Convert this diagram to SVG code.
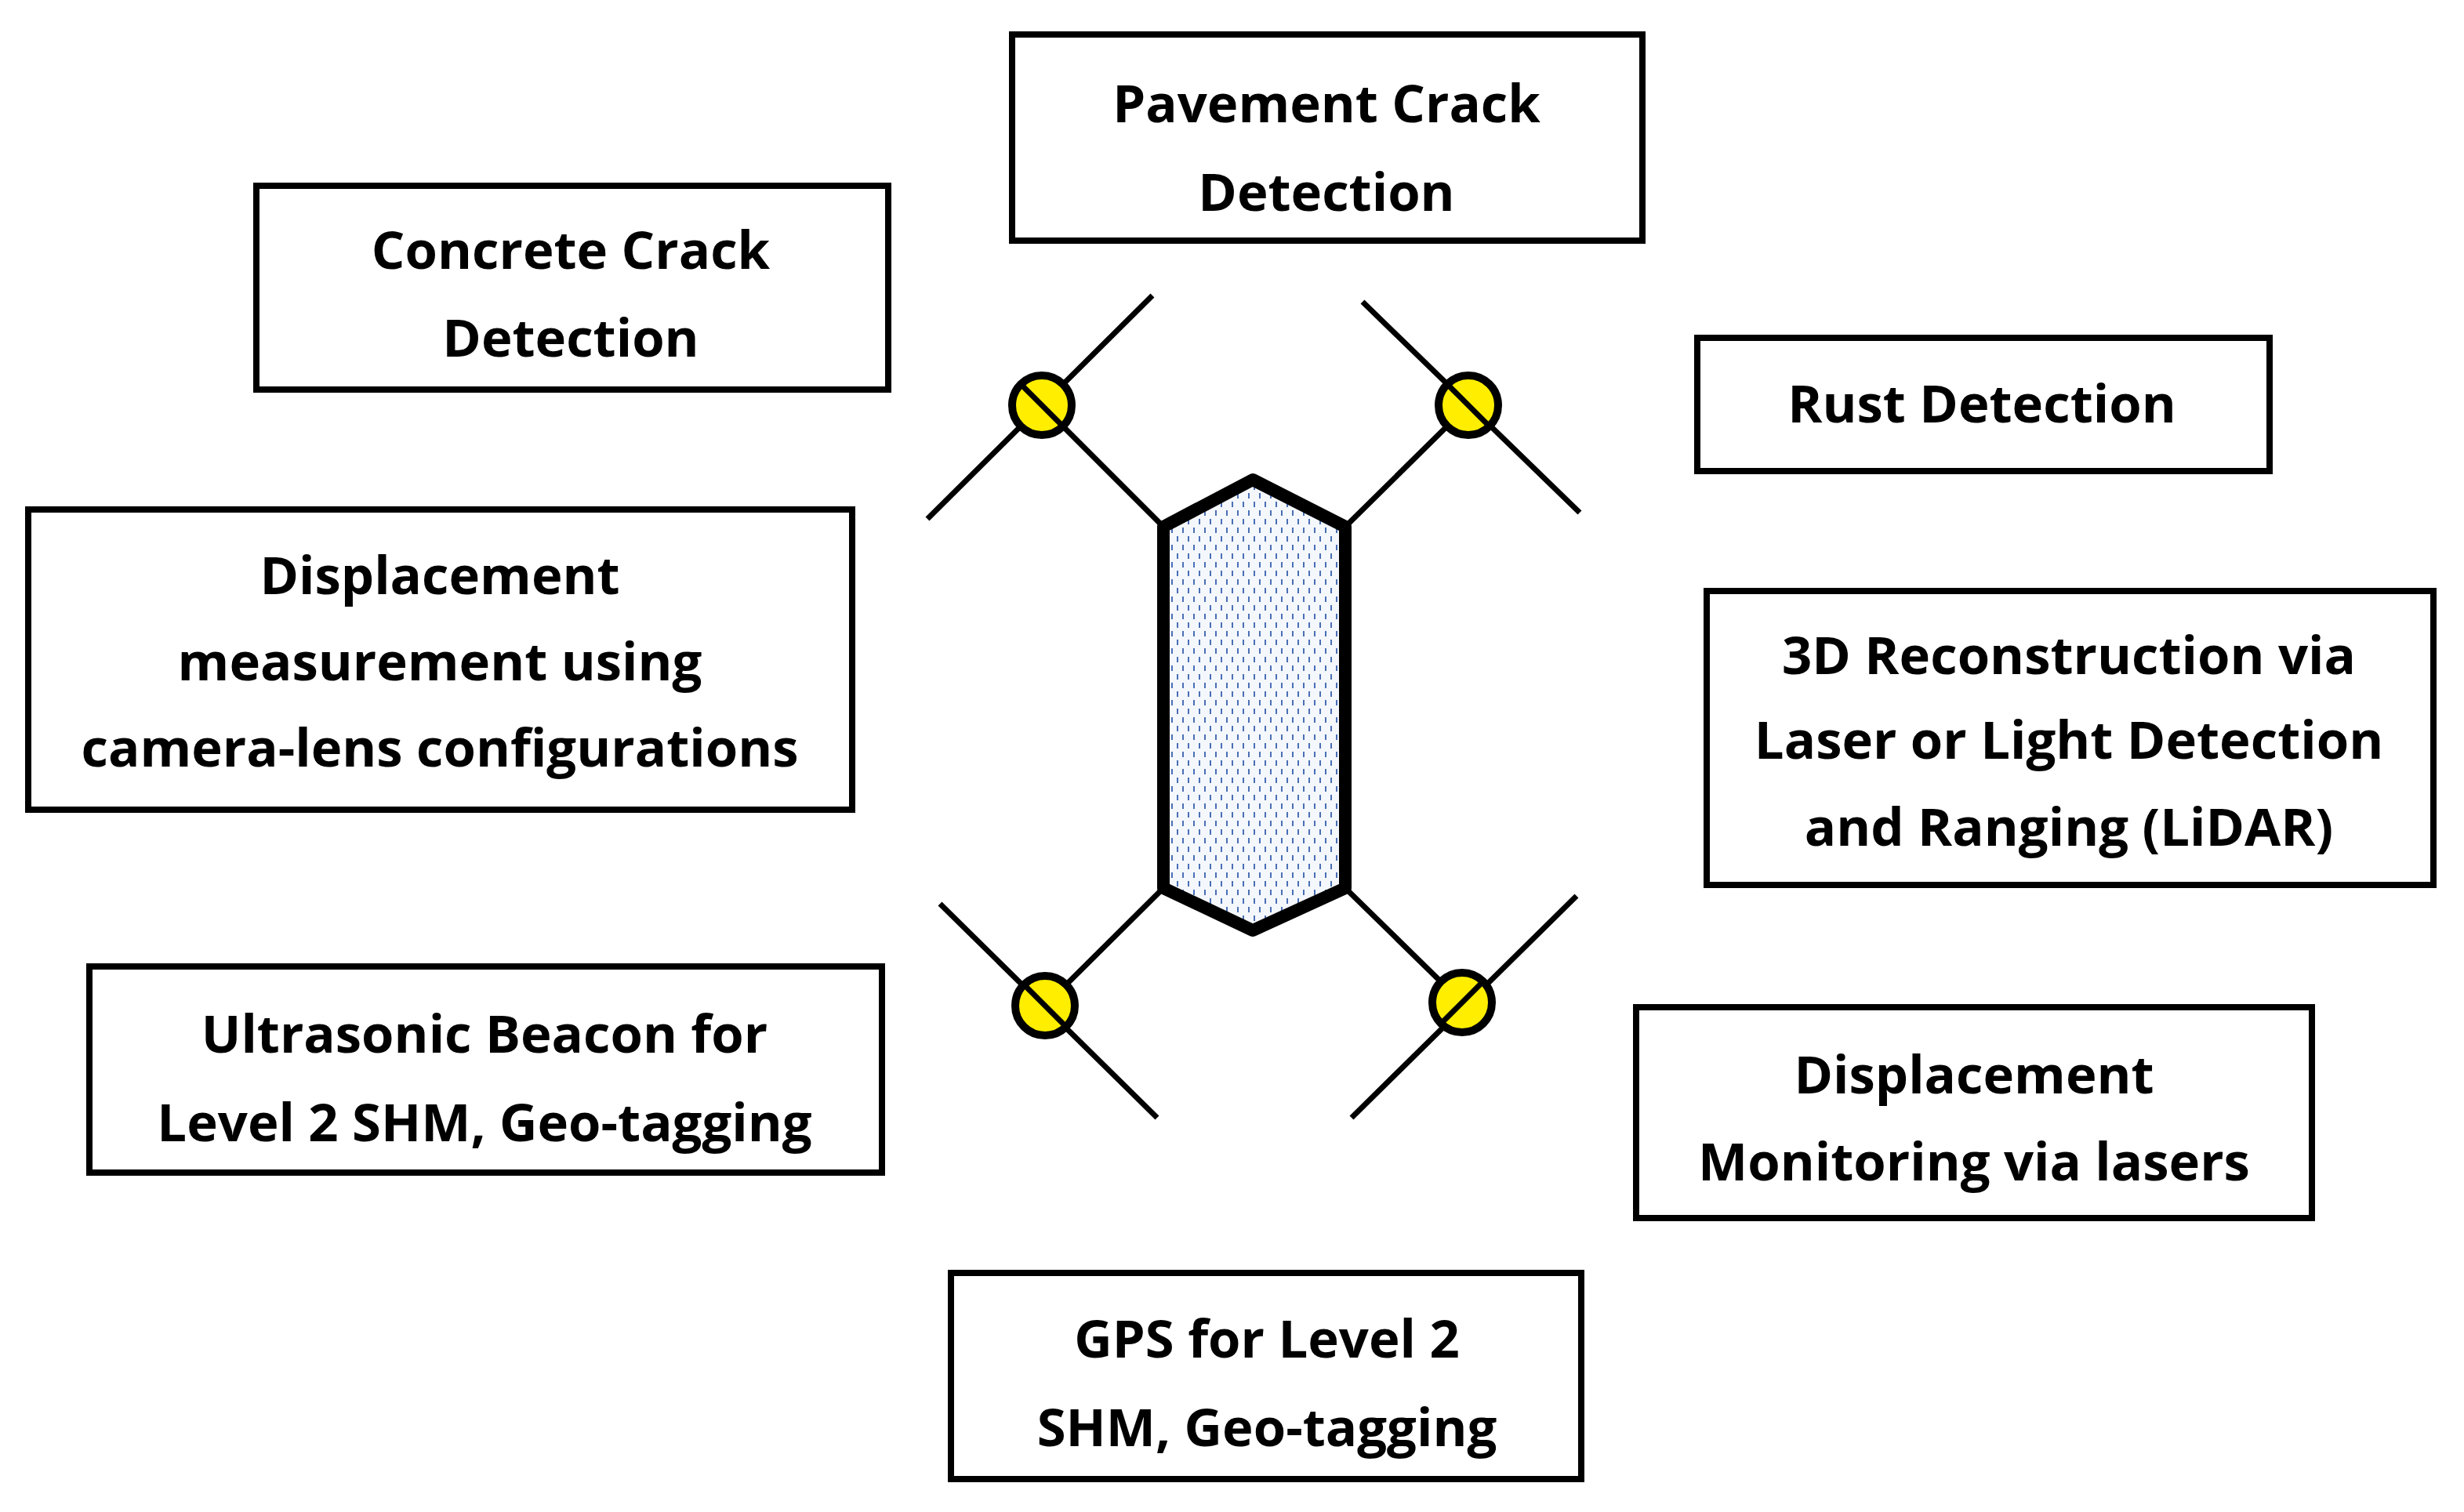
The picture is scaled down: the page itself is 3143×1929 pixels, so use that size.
<svg xmlns="http://www.w3.org/2000/svg" width="3143" height="1929" viewBox="0 0 3143 1929">
<style>
.box{fill:#fff;stroke:#000;stroke-width:8}
.t{font-family:"Open Sans","Liberation Sans",sans-serif;font-weight:bold;font-size:67px;text-anchor:middle;dominant-baseline:central;fill:#000}
.ln{stroke:#000;stroke-width:7;fill:none}
.rot{fill:#ffee00;stroke:#000;stroke-width:10}
</style>
<defs>
<pattern id="dots" width="14" height="22" patternUnits="userSpaceOnUse">
<rect width="14" height="22" fill="#f4f7fc"/>
<line x1="4" y1="2" x2="4" y2="9" stroke="#4a6fb5" stroke-width="2"/>
<line x1="11" y1="13" x2="11" y2="20" stroke="#4a6fb5" stroke-width="2"/>
</pattern>
</defs>
<rect width="3143" height="1929" fill="#fff"/>
<g id="drone">
<g class="ln">
<line x1="1484" y1="672" x2="1329" y2="517"/><line x1="1183" y1="662" x2="1470" y2="377"/>
<line x1="1716" y1="672" x2="1873" y2="517"/><line x1="1738" y1="385" x2="2015" y2="654"/>
<line x1="1484" y1="1133" x2="1333" y2="1283"/><line x1="1199" y1="1153" x2="1476" y2="1426"/>
<line x1="1716" y1="1133" x2="1865" y2="1279"/><line x1="2011" y1="1143" x2="1724" y2="1426"/>
</g>
<circle class="rot" cx="1329" cy="517" r="38"/><line class="ln" x1="1305" y1="493" x2="1353" y2="541"/>
<circle class="rot" cx="1873" cy="517" r="38"/><line class="ln" x1="1849" y1="493" x2="1897" y2="541"/>
<circle class="rot" cx="1333" cy="1283" r="38"/><line class="ln" x1="1309" y1="1259" x2="1357" y2="1307"/>
<circle class="rot" cx="1865" cy="1279" r="38"/><line class="ln" x1="1889" y1="1255" x2="1841" y2="1303"/>
<polygon points="1484,672 1598,612 1716,672 1716,1133 1598,1187 1484,1133" fill="url(#dots)" stroke="#000" stroke-width="16" stroke-linejoin="round"/>
</g>
<g id="pavement"><rect class="box" x="1291" y="44" width="804" height="263"/><text class="t" x="1692" y="130">Pavement Crack</text><text class="t" x="1692" y="243">Detection</text></g>
<g id="concrete"><rect class="box" x="327" y="237" width="806" height="260"/><text class="t" x="728" y="317">Concrete Crack</text><text class="t" x="728" y="429">Detection</text></g>
<g id="rust"><rect class="box" x="2165" y="431" width="730" height="170"/><text class="t" x="2528" y="513">Rust Detection</text></g>
<g id="dispmeas"><rect class="box" x="36" y="650" width="1051" height="383"/><text class="t" x="561" y="732">Displacement</text><text class="t" x="561" y="842">measurement using</text><text class="t" x="561" y="952">camera-lens configurations</text></g>
<g id="lidar"><rect class="box" x="2177" y="754" width="927" height="375"/><text class="t" x="2639" y="834">3D Reconstruction via</text><text class="t" x="2639" y="942">Laser or Light Detection</text><text class="t" x="2639" y="1053">and Ranging (LiDAR)</text></g>
<g id="ultrasonic"><rect class="box" x="114" y="1233" width="1011" height="263"/><text class="t" x="618" y="1317">Ultrasonic Beacon for</text><text class="t" x="618" y="1430">Level 2 SHM, Geo-tagging</text></g>
<g id="dispmon"><rect class="box" x="2087" y="1285" width="862" height="269"/><text class="t" x="2518" y="1369">Displacement</text><text class="t" x="2518" y="1480">Monitoring via lasers</text></g>
<g id="gps"><rect class="box" x="1213" y="1624" width="804" height="263"/><text class="t" x="1616" y="1706">GPS for Level 2</text><text class="t" x="1616" y="1819">SHM, Geo-tagging</text></g>
<g id="connectors"></g>
</svg>
